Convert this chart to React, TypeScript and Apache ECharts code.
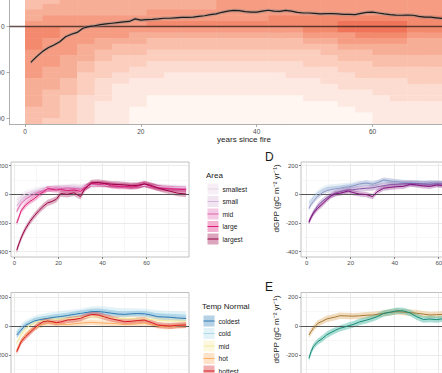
import React, { useEffect, useRef } from "react";
import * as echarts from "echarts";

const FONT = "'Liberation Sans', Arial, Helvetica, sans-serif";

// ---------- Panel A (top): density heatmap + mean line ----------
const A_YEARS = Array.from({ length: 72 }, (_, i) => i + 1);
const A_MEAN = [
  -156, -131, -109, -92, -80, -66, -44, -33, -25, -7, 0, 4, 9, 12, 15, 18, 21, 23, 34, 29,
  31, 32, 34, 37, 37, 39, 41, 41, 42, 45, 48, 53, 56, 63, 68, 71, 70, 66, 64, 64,
  68, 72, 68, 67, 71, 68, 63, 60, 60, 58, 56, 57, 57, 56, 54, 54, 53, 58, 63, 64,
  60, 56, 53, 51, 50, 51, 50, 45, 42, 42, 39, 36,
];
const A_SE = 8;

const HEAT_YEARS = [0, 3, 6, 9, 12, 15, 18, 21, 24, 27, 30, 33, 36, 39, 42, 45, 48, 51, 54, 57, 60, 63, 66, 69];
const HEAT_BANDS = [100, 75, 50, 25, 0, -25, -50, -75, -100, -125, -150, -175, -200, -225, -250, -275, -300, -325, -350, -375, -400, -425];
const HEAT_ROWS = [
  "445555555556" + "666666666666",
  "455555555556" + "666666666666",
  "555555566666" + "666666666666",
  "566666666666" + "667777777777",
  "666666677777" + "777777888877",
  "776666666666" + "666677888877",
  "776666555555" + "555566677766",
  "766655544444" + "444455666655",
  "766554444444" + "444444555555",
  "666544433333" + "333334445555",
  "665543333333" + "333333444444",
  "665433322222" + "222233334444",
  "655433222222" + "222222333333",
  "655332221111" + "111222233333",
  "554322111111" + "111112222233",
  "554321111111" + "111111222222",
  "544321111111" + "111111112222",
  "543221100000" + "000011111222",
  "543211100000" + "000000111111",
  "443211000000" + "000000011111",
  "443211000000" + "000000001111",
  "433211000000" + "000000001111",
];
const HEAT_COLORS = ["#fff5f1", "#fde9e1", "#fcdcd0", "#fbcebe", "#f9bfab", "#f7ae97", "#f59c82", "#f3896d", "#ef7459", "#e95c43"];

// ---------- Panels B-E ----------
const YEARS = [1, 2, 3, 4, 5, 7, 9, 11, 13, 15, 17, 19, 21, 24, 27, 30, 32, 35, 38, 41, 44, 47, 50, 53, 56, 59, 62, 65, 68, 71, 74, 78];

// B: Area
const AREA_NAMES = ["smallest", "small", "mid", "large", "largest"];
const AREA_COLORS = ["#e6d3e6", "#d7b5d8", "#df65b0", "#dd1c77", "#980043"];
const AREA_SE = [22, 20, 18, 20, 22];
const AREA_SMALLEST = [-40, -30, -15, -5, 5, 15, 25, 30, 35, 40, 45, 45, 50, 50, 55, 50, 55, 62, 65, 65, 62, 60, 58, 56, 58, 62, 58, 55, 50, 48, 46, 45];
const AREA_SMALL = [-80, -60, -40, -25, -15, 0, 10, 20, 30, 35, 40, 40, 45, 45, 50, 45, 55, 65, 70, 68, 65, 62, 60, 58, 60, 65, 58, 52, 48, 45, 42, 40];
const AREA_MID = [-120, -90, -65, -50, -35, -15, 0, 15, 25, 35, 40, 45, 40, 45, 40, 35, 50, 70, 72, 70, 65, 60, 58, 55, 60, 70, 60, 50, 45, 42, 40, 38];
const AREA_LARGE = [-200, -160, -115, -95, -75, -50, -30, -5, 15, 40, 35, 30, 35, 25, 30, 20, 45, 75, 70, 72, 60, 55, 55, 52, 55, 72, 55, 45, 40, 38, 35, 32];
const AREA_LARGEST = [-390, -345, -305, -270, -240, -190, -150, -115, -85, -60, -50, -35, 5, 0, 10, -15, 40, 80, 82, 75, 70, 68, 65, 60, 62, 72, 62, 45, 32, 20, 8, 2];

// C: Temp Normal
const TEMP_NAMES = ["coldest", "cold", "mid", "hot", "hottest"];
const TEMP_COLORS = ["#2c7bb6", "#abd9e9", "#f3eaa0", "#fdae61", "#d7191c"];
const TEMP_SE = [20, 24, 20, 18, 20];
const TEMP_COLDEST = [-62, -45, -28, -10, 5, 20, 35, 42, 48, 53, 58, 62, 65, 72, 80, 87, 92, 99, 100, 95, 88, 82, 80, 84, 86, 84, 76, 64, 62, 60, 55, 52];
const TEMP_COLD = [-40, -25, -10, 5, 15, 30, 45, 55, 60, 65, 70, 75, 80, 85, 90, 95, 100, 110, 112, 110, 105, 100, 98, 98, 96, 95, 90, 85, 82, 80, 78, 75];
const TEMP_MID = [-120, -90, -60, -40, -20, 5, 20, 30, 35, 40, 42, 45, 48, 50, 55, 58, 60, 65, 62, 60, 55, 52, 50, 50, 48, 50, 45, 40, 38, 35, 35, 32];
const TEMP_HOT = [-170, -140, -110, -85, -60, -35, -15, 0, 10, 18, 20, 15, 12, 10, 15, 20, 22, 25, 22, 20, 18, 15, 10, 12, 15, 20, 10, 0, -5, -5, 0, 2];
const TEMP_HOTTEST = [-177, -143, -108, -90, -74, -45, -15, 10, 30, 35, 30, 23, 28, 41, 45, 53, 65, 80, 76, 62, 50, 40, 30, 32, 38, 41, 25, 7, 2, 0, 5, 7];

// D
const D_COLORS = ["#b3cde3", "#8c96c6", "#8856a7", "#810f7c"];
const D_SE = [20, 18, 20, 18];
const D_LIGHT = [-60, -45, -20, -5, 10, 30, 45, 50, 52, 55, 58, 62, 65, 70, 78, 75, 80, 92, 90, 85, 82, 80, 80, 78, 78, 76, 74, 72, 70, 70, 68, 68];
const D_BLUE = [-98, -70, -51, -30, -16, 10, 25, 32, 38, 42, 48, 52, 58, 72, 78, 70, 80, 100, 92, 88, 82, 80, 78, 75, 80, 78, 75, 72, 70, 68, 66, 65];
const D_PURPLE = [-190, -160, -130, -105, -80, -50, -25, -5, 8, 18, 25, 30, 32, 38, 42, 45, 52, 60, 68, 70, 74, 75, 75, 72, 70, 74, 72, 70, 68, 66, 65, 64];
const D_DARK = [-195, -160, -133, -115, -98, -70, -40, -12, 3, 7, 15, 23, 12, 2, -2, -16, 18, 42, 48, 53, 55, 70, 65, 58, 55, 65, 62, 60, 58, 56, 55, 55];

// E
const E_LINE_COLORS = ["#a57a35", "#1a8a78"];
const E_FILL_COLORS = ["#e3b272", "#3fb59e"];
const E_SE = [22, 22];
const E_TAN = [-62, -38, -16, 0, 18, 32, 48, 55, 62, 71, 70, 69, 68, 70, 74, 76, 80, 87, 95, 99, 96, 92, 88, 82, 76, 78, 80, 84, 85, 84, 82, 80];
const E_TEAL = [-223, -177, -143, -125, -108, -88, -62, -45, -30, -16, -8, 2, 10, 28, 40, 53, 65, 87, 95, 105, 104, 90, 64, 45, 48, 44, 50, 60, 62, 64, 64, 65];

const X_TICKS = [0, 20, 40, 60];
const X_MINOR = [10, 30, 50, 70];
const Y_TICKS = [-400, -200, 0, 200];
const Y_MINOR = [-300, -100, 100];

function ribbon(gi: number, years: number[], vals: number[], se: number, color: string, opacity: number, z: number) {
  return {
    type: "custom",
    xAxisIndex: gi,
    yAxisIndex: gi,
    z,
    silent: true,
    clip: true,
    data: years.map((y, i) => [y, vals[i]]),
    encode: { x: 0, y: 1 },
    renderItem: (params: any, api: any) => {
      if (params.dataIndex !== 0) return null;
      const pts: number[][] = [];
      for (let i = 0; i < years.length; i++) pts.push(api.coord([years[i], vals[i] + se]));
      for (let i = years.length - 1; i >= 0; i--) pts.push(api.coord([years[i], vals[i] - se]));
      return { type: "polygon", shape: { points: pts }, style: { fill: color, opacity } };
    },
  };
}

function line(gi: number, years: number[], vals: number[], color: string, width: number, z: number) {
  return {
    type: "line",
    xAxisIndex: gi,
    yAxisIndex: gi,
    z,
    silent: true,
    clip: true,
    symbol: "none",
    showSymbol: false,
    data: years.map((y, i) => [y, vals[i]]),
    lineStyle: { color, width },
    itemStyle: { color },
  };
}

function markLines(gi: number, z: number, items: any[]) {
  return {
    type: "line",
    xAxisIndex: gi,
    yAxisIndex: gi,
    z,
    silent: true,
    data: [],
    markLine: {
      z,
      silent: true,
      symbol: ["none", "none"],
      label: { show: false },
      animation: false,
      data: items,
    },
  };
}

function gridLines(gi: number) {
  const minor = { color: "#efefef", width: 0.5, type: "solid" };
  const major = { color: "#e6e6e6", width: 0.8, type: "solid" };
  return markLines(gi, 1, [
    ...X_MINOR.map((v) => ({ xAxis: v, lineStyle: minor })),
    ...Y_MINOR.map((v) => ({ yAxis: v, lineStyle: minor })),
    ...X_TICKS.map((v) => ({ xAxis: v, lineStyle: major })),
    ...Y_TICKS.map((v) => ({ yAxis: v, lineStyle: major })),
  ]);
}

function zeroLine(gi: number, color: string, width: number) {
  return markLines(gi, 3, [{ yAxis: 0, lineStyle: { color, width, type: "solid" } }]);
}

function framedAxes(gi: number, xmin: number, xmax: number, ymin: number, ymax: number) {
  const tick = { show: true, length: 2, lineStyle: { color: "#555", width: 0.7 } };
  const label = { color: "#4d4d4d", fontSize: 6, fontFamily: FONT };
  return {
    x: {
      type: "value", gridIndex: gi, min: xmin, max: xmax,
      axisLine: { show: false, onZero: false },
      axisTick: { ...tick, customValues: X_TICKS },
      axisLabel: { ...label, margin: 2.5, customValues: X_TICKS },
      splitLine: { show: false },
    },
    y: {
      type: "value", gridIndex: gi, min: ymin, max: ymax,
      axisLine: { show: false, onZero: false },
      axisTick: { ...tick, customValues: Y_TICKS },
      axisLabel: { ...label, margin: 3, customValues: Y_TICKS },
      splitLine: { show: false },
    },
  };
}

function legendEls(title: string, names: string[], colors: string[], tx: number, ty: number, kx: number, lx: number, y0: number, step: number) {
  const els: any[] = [
    {
      type: "text", x: tx, y: ty,
      style: { text: title, font: `8px ${FONT}`, fill: "#1a1a1a", align: "left", verticalAlign: "middle", textAlign: "left", textVerticalAlign: "middle" },
    },
  ];
  names.forEach((n, i) => {
    const cy = y0 + i * step;
    els.push({ type: "rect", shape: { x: kx, y: cy - 5.5, width: 11, height: 11 }, style: { fill: colors[i], opacity: 0.35 } });
    els.push({ type: "line", shape: { x1: kx, y1: cy, x2: kx + 11, y2: cy }, style: { stroke: colors[i], lineWidth: 1 } });
    els.push({
      type: "text", x: lx, y: cy,
      style: { text: n, font: `6.7px ${FONT}`, fill: "#1a1a1a", align: "left", verticalAlign: "middle", textAlign: "left", textVerticalAlign: "middle" },
    });
  });
  return els;
}

function buildOption() {
  // heatmap cells
  const heatData: number[][] = [];
  HEAT_ROWS.forEach((row, r) => {
    for (let c = 0; c < HEAT_YEARS.length; c++) {
      const lv = Number(row[c]);
      if (!isNaN(lv)) heatData.push([HEAT_YEARS[c], HEAT_BANDS[r], lv]);
    }
  });

  const B = framedAxes(1, -1.6, 79.3, -437, 225);
  const C = framedAxes(2, -1.6, 79.3, -424, 231);
  const D = framedAxes(3, -2.59, 78.3, -437, 225);
  const E = framedAxes(4, -2.59, 78.3, -424, 231);

  const aLabel = { color: "#4d4d4d", fontSize: 6.5, fontFamily: FONT };
  const aLine = { show: true, onZero: false, lineStyle: { color: "#9a9a9a", width: 0.8 } };
  const aTick = { show: true, length: 3, lineStyle: { color: "#9a9a9a", width: 0.8 } };

  const series: any[] = [];

  // Panel A
  series.push({
    type: "custom",
    xAxisIndex: 0,
    yAxisIndex: 0,
    z: 1,
    silent: true,
    clip: true,
    data: heatData,
    encode: { x: 0, y: 1 },
    renderItem: (params: any, api: any) => {
      const x0 = api.value(0);
      const y0 = api.value(1);
      const lv = api.value(2);
      const p0 = api.coord([x0, y0 + 25]);
      const p1 = api.coord([x0 + 3, y0]);
      return {
        type: "rect",
        shape: { x: p0[0], y: p0[1], width: p1[0] - p0[0] + 0.5, height: p1[1] - p0[1] + 0.5 },
        style: { fill: HEAT_COLORS[lv] },
      };
    },
  });
  series.push(zeroLine(0, "rgba(60,35,30,0.8)", 1.3));
  series.push(ribbon(0, A_YEARS, A_MEAN, A_SE, "#8a8a8a", 0.4, 4));
  series.push(line(0, A_YEARS, A_MEAN, "#1e1e1e", 1.2, 5));

  // Panel B
  const areaVals = [AREA_SMALLEST, AREA_SMALL, AREA_MID, AREA_LARGE, AREA_LARGEST];
  series.push(gridLines(1));
  areaVals.forEach((v, i) => series.push(ribbon(1, YEARS, v, AREA_SE[i], AREA_COLORS[i], 0.3, 2)));
  series.push(zeroLine(1, "#555555", 1));
  areaVals.forEach((v, i) => series.push(line(1, YEARS, v, AREA_COLORS[i], 1, 4)));

  // Panel C
  const tempVals = [TEMP_COLDEST, TEMP_COLD, TEMP_MID, TEMP_HOT, TEMP_HOTTEST];
  series.push(gridLines(2));
  tempVals.forEach((v, i) => series.push(ribbon(2, YEARS, v, TEMP_SE[i], TEMP_COLORS[i], 0.35, 2)));
  series.push(zeroLine(2, "#555555", 1));
  tempVals.forEach((v, i) => series.push(line(2, YEARS, v, TEMP_COLORS[i], 1, 4)));

  // Panel D
  const dVals = [D_LIGHT, D_BLUE, D_PURPLE, D_DARK];
  series.push(gridLines(3));
  dVals.forEach((v, i) => series.push(ribbon(3, YEARS, v, D_SE[i], D_COLORS[i], 0.3, 2)));
  series.push(zeroLine(3, "#555555", 1));
  dVals.forEach((v, i) => series.push(line(3, YEARS, v, D_COLORS[i], 1, 4)));

  // Panel E
  const eVals = [E_TAN, E_TEAL];
  series.push(gridLines(4));
  eVals.forEach((v, i) => series.push(ribbon(4, YEARS, v, E_SE[i], E_FILL_COLORS[i], 0.45, 2)));
  series.push(zeroLine(4, "#555555", 1));
  eVals.forEach((v, i) => series.push(line(4, YEARS, v, E_LINE_COLORS[i], 1, 4)));

  const framedGrid = { show: true, borderColor: "#b0b0b0", borderWidth: 0.8, backgroundColor: "#ffffff", outerBoundsMode: "none", containLabel: false };

  const yTitle = "dGPP (gC m⁻² yr⁻¹)";
  const textStyle = (text: string, size: number, align: string) => ({
    text,
    font: `${size}px ${FONT}`,
    fill: "#1a1a1a",
    align,
    verticalAlign: "middle",
    textAlign: align,
    textVerticalAlign: "middle",
  });

  return {
    animation: false,
    backgroundColor: "#ffffff",
    grid: [
      { left: 9.5, top: 0, width: 432.5, height: 124, show: false, outerBoundsMode: "none", containLabel: false },
      { left: 11, top: 162, width: 178, height: 95, ...framedGrid },
      { left: 11, top: 292.5, width: 178, height: 95, ...framedGrid },
      { left: 301, top: 162, width: 178, height: 95, ...framedGrid },
      { left: 301, top: 292.5, width: 178, height: 95, ...framedGrid },
    ],
    xAxis: [
      {
        type: "value", gridIndex: 0, min: -2.68, max: 72,
        axisLine: aLine,
        axisTick: { ...aTick, customValues: X_TICKS },
        axisLabel: { ...aLabel, margin: 3.5, customValues: X_TICKS },
        splitLine: { show: false },
      },
      B.x, C.x, D.x, E.x,
    ],
    yAxis: [
      {
        type: "value", gridIndex: 0, min: -425.8, max: 116.8,
        axisLine: aLine,
        axisTick: { ...aTick, customValues: [-400, -200, 0] },
        axisLabel: { ...aLabel, margin: 5, customValues: [-400, -200, 0] },
        splitLine: { show: false },
      },
      B.y, C.y, D.y, E.y,
    ],
    series,
    graphic: [
      { type: "text", x: 244, y: 139, style: textStyle("years since fire", 8, "center") },
      { type: "text", x: 265, y: 156.5, style: textStyle("D", 12, "left") },
      { type: "text", x: 265, y: 286.7, style: textStyle("E", 12, "left") },
      { type: "text", x: 276.7, y: 198.5, rotation: Math.PI / 2, style: textStyle(yTitle, 8, "center") },
      { type: "text", x: 276.7, y: 329.5, rotation: Math.PI / 2, style: textStyle(yTitle, 8, "center") },
      ...legendEls("Area", AREA_NAMES, AREA_COLORS, 206, 175, 207.5, 222.5, 189, 12.5),
      ...legendEls("Temp Normal", TEMP_NAMES, TEMP_COLORS, 202, 306.7, 203.5, 218.5, 321, 12.5),
    ],
  };
}

export default function App() {
  const ref = useRef<HTMLDivElement>(null);
  useEffect(() => {
    if (!ref.current) return;
    const chart = echarts.init(ref.current, null, { renderer: "svg" });
    chart.setOption(buildOption() as any);
    return () => {
      chart.dispose();
    };
  }, []);
  return (
    <div
      ref={ref}
      style={{ position: "fixed", left: 0, top: 0, width: 442, height: 373, background: "#ffffff", overflow: "hidden" }}
    />
  );
}
